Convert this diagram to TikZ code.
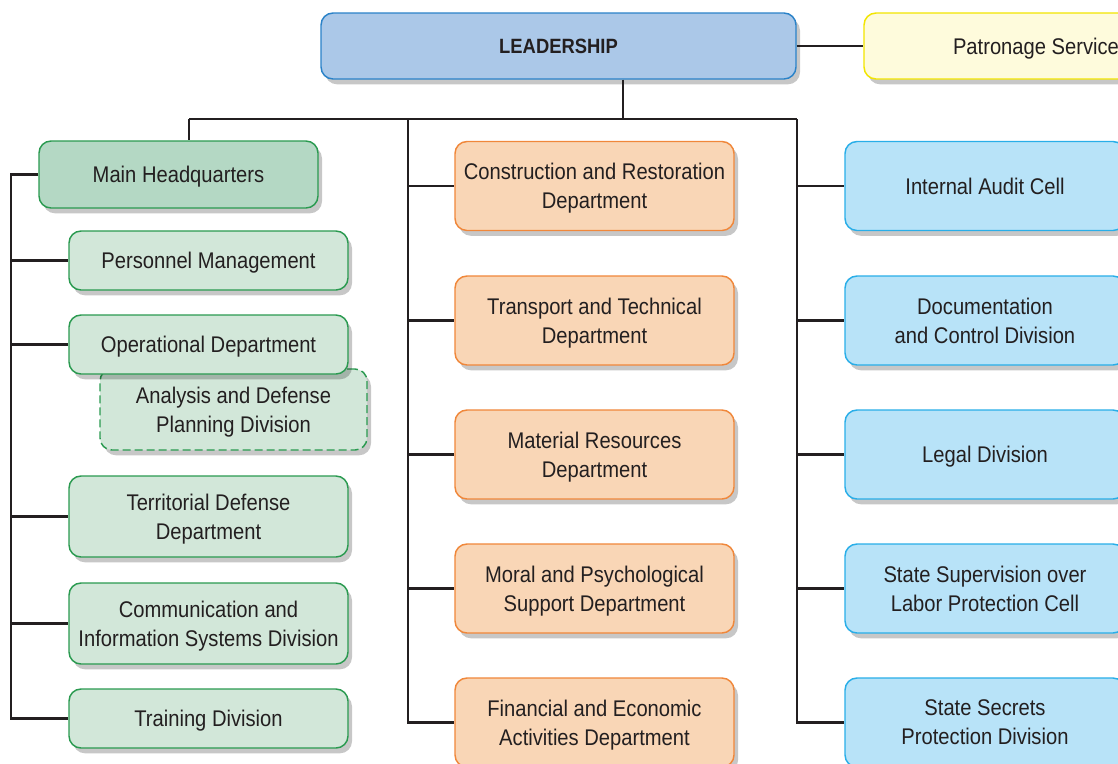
\documentclass[tikz,border=0pt]{standalone}
\usepackage{fontspec}
\setmainfont{Liberation Sans}[FakeStretch=0.89]
\usetikzlibrary{shadows}
\definecolor{txt}{HTML}{231F20}
\definecolor{leadfill}{HTML}{ABC8E8}
\definecolor{leaddraw}{HTML}{2A82C8}
\definecolor{patfill}{HTML}{FEFBDC}
\definecolor{patdraw}{HTML}{F2E500}
\definecolor{hqfill}{HTML}{B4D8C4}
\definecolor{grfill}{HTML}{D2E7D9}
\definecolor{grdraw}{HTML}{2A9A50}
\definecolor{orfill}{HTML}{F9D6B6}
\definecolor{ordraw}{HTML}{F0873A}
\definecolor{blfill}{HTML}{B8E3F8}
\definecolor{bldraw}{HTML}{29AEE8}
\tikzset{
  box/.style={rounded corners=9pt, line width=1.1pt, align=center, text=txt,
    font=\fontsize{17}{21.75}\selectfont, inner sep=2pt, text depth=0pt,
    drop shadow={shadow xshift=3pt, shadow yshift=-4pt, opacity=0.22, fill=black}},
  leadbox/.style={box, fill=leadfill, draw=leaddraw, minimum width=356.25pt, minimum height=49.5pt,
    font=\fontsize{15.5}{18}\selectfont\bfseries},
  patbox/.style={box, fill=patfill, draw=patdraw, minimum width=258pt, minimum height=49.5pt},
  hqbox/.style={box, fill=hqfill, draw=grdraw, minimum width=209.25pt, minimum height=50.25pt},
  grbox/.style={box, fill=grfill, draw=grdraw, minimum width=209.25pt, minimum height=44.25pt},
  grboxtall/.style={grbox, minimum height=60.75pt},
  grdash/.style={box, fill=grfill, draw=grdraw, dashed, dash pattern=on 6pt off 3pt, minimum width=200.25pt, minimum height=60.75pt},
  orbox/.style={box, fill=orfill, draw=ordraw, minimum width=209.25pt, minimum height=66.75pt},
  blbox/.style={box, fill=blfill, draw=bldraw, minimum width=210pt, minimum height=66.75pt},
  link/.style={draw=txt, line width=1.7pt}
}
\begin{document}
\begin{tikzpicture}[x=0.75pt, y=-0.75pt]
\clip (0,0) rectangle (1118,764);
\fill[white] (0,0) rectangle (1118,764);

% top
\node[leadbox] (lead) at (558.5,46) {LEADERSHIP};
\node[patbox] (pat) at (1036,46) {Patronage Service};

% left column
\node[hqbox] (hq) at (178.5,174.5) {Main Headquarters};
\node[grbox] (per) at (208.5,260.5) {Personnel Management};
\node[grdash] (ana) at (233.5,409.5) {Analysis and Defense\\Planning Division};
\node[grbox] (ope) at (208.5,344.5) {Operational Department};
\node[grboxtall] (ter) at (208.5,516.5) {Territorial Defense\\Department};
\node[grboxtall] (com) at (208.5,623.5) {Communication and\\Information Systems Division};
\node[grbox] (trn) at (208.5,718.5) {Training Division};

% middle column
\node[orbox] (con) at (594.5,186) {Construction and Restoration\\Department};
\node[orbox] (tra) at (594.5,320.5) {Transport and Technical\\Department};
\node[orbox] (mat) at (594.5,454.5) {Material Resources\\Department};
\node[orbox] (mor) at (594.5,588.5) {Moral and Psychological\\Support Department};
\node[orbox] (fin) at (594.5,722.5) {Financial and Economic\\Activities Department};

% right column
\node[blbox] (aud) at (985,186) {Internal Audit Cell};
\node[blbox] (doc) at (985,320.5) {Documentation\\and Control Division};
\node[blbox] (leg) at (985,454.5) {Legal Division};
\node[blbox] (sup) at (985,588.5) {State Supervision over\\Labor Protection Cell};
\node[blbox] (sec) at (985,722.5) {State Secrets\\Protection Division};

% bus coordinates
\coordinate (t0) at (623,119);
\coordinate (b0) at (189,119);
\coordinate (m0) at (408,119);
\coordinate (r0) at (797,119);
\coordinate (ls) at (11,0);

% connectors
\draw[link] (lead.east) -- (pat.west);
\draw[link] (t0 |- lead.south) -- (t0);
\draw[link] (b0) -- (r0);
\draw[link] (b0) -- (b0 |- hq.north);
\draw[link] (hq.west) -- (ls |- hq.west) -- (ls |- trn.west) -- (trn.west);
\draw[link] (ls |- per.west) -- (per.west);
\draw[link] (ls |- ope.west) -- (ope.west);
\draw[link] (ls |- ter.west) -- (ter.west);
\draw[link] (ls |- com.west) -- (com.west);
\draw[link] (m0) |- (fin.west);
\draw[link] (m0 |- con.west) -- (con.west);
\draw[link] (m0 |- tra.west) -- (tra.west);
\draw[link] (m0 |- mat.west) -- (mat.west);
\draw[link] (m0 |- mor.west) -- (mor.west);
\draw[link] (r0) |- (sec.west);
\draw[link] (r0 |- aud.west) -- (aud.west);
\draw[link] (r0 |- doc.west) -- (doc.west);
\draw[link] (r0 |- leg.west) -- (leg.west);
\draw[link] (r0 |- sup.west) -- (sup.west);
\end{tikzpicture}
\end{document}
